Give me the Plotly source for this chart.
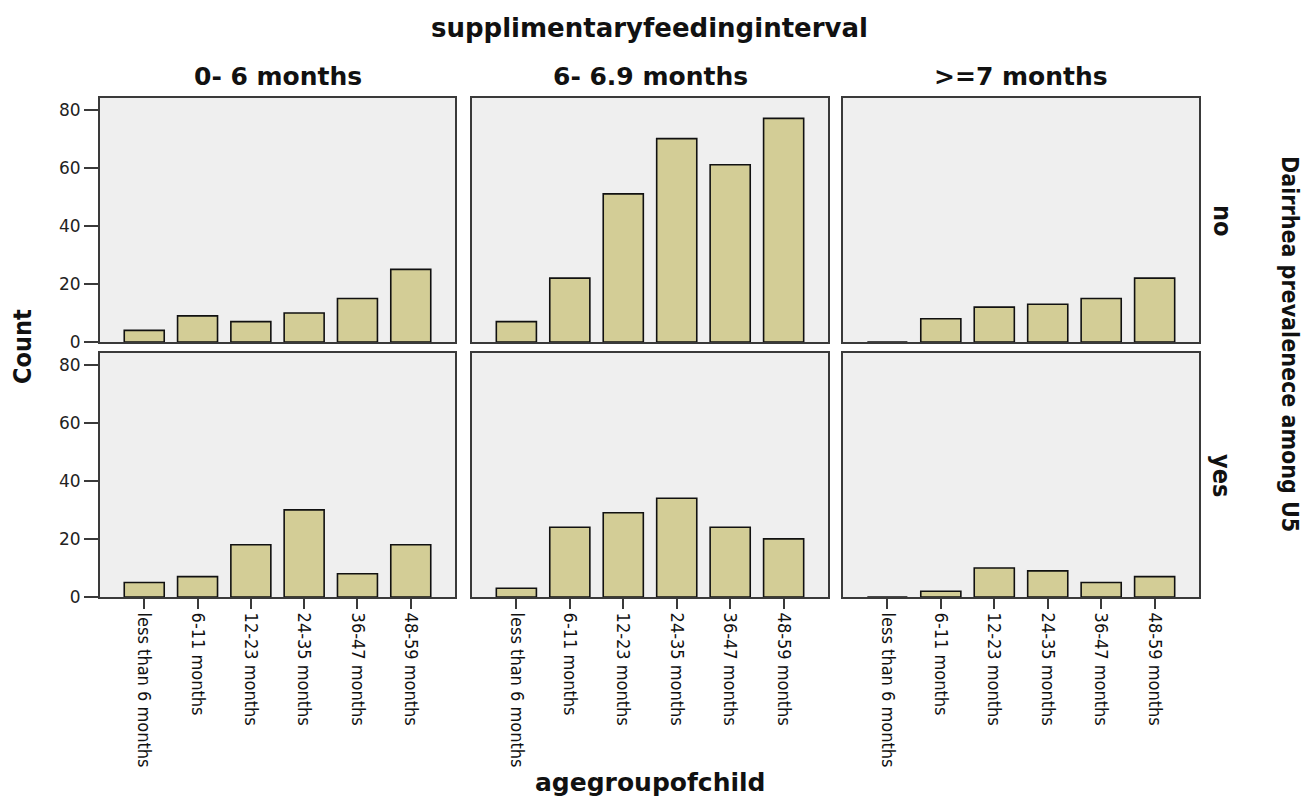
import plotly.graph_objects as go

# page has an 8px body margin: the figure is sized to fit the window exactly
OFF = 8
W, H = 1309 - OFF, 797 - OFF

age_groups = ["less than 6 months", "6-11 months", "12-23 months",
              "24-35 months", "36-47 months", "48-59 months"]
intervals = ["0- 6 months", "6- 6.9 months", ">=7 months"]
diarrhea = ["no", "yes"]

# counts[row][col] : row = diarrhea (no, yes), col = feeding interval
no_0_6 = [4, 9, 7, 10, 15, 25]
no_6_69 = [7, 22, 51, 70, 61, 77]
no_7 = [0, 8, 12, 13, 15, 22]
yes_0_6 = [5, 7, 18, 30, 8, 18]
yes_6_69 = [3, 24, 29, 34, 24, 20]
yes_7 = [0, 2, 10, 9, 5, 7]
counts = [[no_0_6, no_6_69, no_7], [yes_0_6, yes_6_69, yes_7]]

y_ticks = [0, 20, 40, 60, 80]

BAR = "#d3cd96"
BG = "#efefef"
FRAME = "#3a3a3a"
NARROW = "DejaVu Sans Condensed"
BOLD = "DejaVu Sans"

def px_x(p):
    return (p - OFF) / W

def px_y(p):
    return 1 - (p - OFF) / H

col_px = [(100, 455), (472, 828), (843, 1199)]
row_px = [(98, 342), (353, 597)]

fig = go.Figure()
layout = {}
for r in range(2):
    for c in range(3):
        k = r * 3 + c + 1
        xa = "x" if k == 1 else f"x{k}"
        ya = "y" if k == 1 else f"y{k}"
        fig.add_trace(go.Bar(
            x=age_groups, y=counts[r][c], xaxis=xa, yaxis=ya,
            width=0.75, marker=dict(color=BAR, line=dict(color="#111111", width=1.6)),
            showlegend=False, hoverinfo="x+y"))
        xk = "xaxis" if k == 1 else f"xaxis{k}"
        yk = "yaxis" if k == 1 else f"yaxis{k}"
        bottom = r == 1
        left = c == 0
        layout[xk] = dict(
            domain=[px_x(col_px[c][0]), px_x(col_px[c][1])], automargin=False,
            anchor=ya, type="category", categoryorder="array", categoryarray=age_groups,
            range=[-0.83, 5.83], showline=True, mirror=True, linecolor=FRAME, linewidth=2,
            showgrid=False, zeroline=False,
            ticks="outside" if bottom else "", ticklen=10, tickwidth=2, tickcolor=FRAME,
            showticklabels=bottom, tickangle=90,
            tickfont=dict(family=NARROW, size=18, color="#111111"),
        )
        layout[yk] = dict(
            domain=[px_y(row_px[r][1]), px_y(row_px[r][0])], automargin=False,
            anchor=xa, range=[0, 84], showline=True, mirror=True, linecolor=FRAME, linewidth=2,
            showgrid=False, zeroline=False,
            tickvals=y_ticks if left else [], ticks="outside" if left else "",
            ticklen=14, tickwidth=2, tickcolor=FRAME,
            showticklabels=left, tickfont=dict(family=BOLD, size=17, color="#222222"),
        )

annotations = []
def ann(text, px, py, font, angle=0):
    annotations.append(dict(text=text, x=px_x(px), y=px_y(py), xref="paper", yref="paper",
                            showarrow=False, xanchor="center", yanchor="middle",
                            textangle=angle, font=font))

title_font = dict(family=BOLD, size=25, color="#111111")
ann("<b>supplimentaryfeedinginterval</b>", 649, 28, dict(family=BOLD, size=26, color="#111111"))
for c, name in enumerate(intervals):
    ann(f"<b>{name}</b>", (col_px[c][0] + col_px[c][1]) / 2, 76, title_font)
ann("<b>agegroupofchild</b>", 650, 782, title_font)

ann("<b>Count</b>", 22, 347, dict(family=NARROW, size=25, color="#111111"), angle=-90)
ann("<b>Dairrhea prevalenece among U5</b>", 1290, 344,
    dict(family=NARROW, size=23, color="#111111"), angle=90)
for r, name in enumerate(diarrhea):
    ann(f"<b>{name}</b>", 1222, (row_px[r][0] + row_px[r][1]) / 2,
        dict(family=NARROW, size=25, color="#111111"), angle=90)

fig.update_layout(
    width=W, height=H, margin=dict(l=0, r=0, t=0, b=0),
    paper_bgcolor="white", plot_bgcolor=BG, bargap=0.25,
    annotations=annotations, **layout)

fig.write_html("out.html")
